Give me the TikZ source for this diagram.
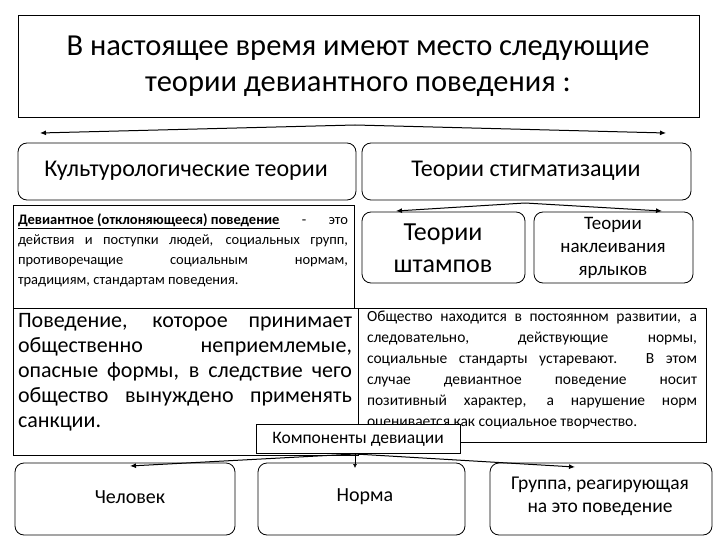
\documentclass[tikz,border=0pt]{standalone}
\usepackage{fontspec}
\setmainfont{Carlito}
\usetikzlibrary{arrows.meta}
\begin{document}
\begin{tikzpicture}[x=1pt,y=-1pt,
  rbox/.style={draw,rounded corners=9pt,line width=0.8pt,inner sep=0pt},
  sbox/.style={draw,line width=0.8pt,inner sep=0pt},
  arr/.style={-{Latex[length=6pt,width=5pt]},line width=1pt}]
\useasboundingbox (0,0) rectangle (720,540);
\draw[sbox] (18,15) rectangle (699,117);
\node (title) at (358,66) [align=center,font=\fontsize{30.5}{36}\selectfont] {В настоящее время имеют место следующие\\теории девиантного поведения :};
\coordinate (t) at (355,125);
\coordinate (l1) at (40,133);
\coordinate (r1) at (666,133);
\draw[arr] (t) -- (l1);
\draw[arr] (t) -- (r1);
\draw[rbox] (18,143) rectangle (356,200);
\node (cult) at (186,171) [font=\fontsize{24}{28}\selectfont] {Культурологические теории};
\draw[rbox] (362,143) rectangle (691,200);
\node (stig) at (526,171) [font=\fontsize{24}{28}\selectfont] {Теории стигматизации};
\coordinate (t2) at (525,203);
\coordinate (l2) at (396,211);
\coordinate (r2) at (662,211);
\draw[arr] (t2) -- (l2);
\draw[arr] (t2) -- (r2);
\draw[sbox] (13,205) rectangle (354,308);
\node (def) at (183,250) [text width=330pt,align=justify,font=\fontsize{14.5}{20}\selectfont] {\underline{\textbf{Девиантное (отклоняющееся) поведение}} - это\linebreak действия и поступки людей, социальных групп,\linebreak противоречащие социальным нормам,\linebreak традициям, стандартам поведения.};
\draw[rbox] (362,212) rectangle (525,283);
\node (sht) at (443,248) [align=center,font=\fontsize{26}{32}\selectfont] {Теории\\штампов};
\draw[rbox] (534,212) rectangle (693,283);
\node (yar) at (613,248) [align=center,font=\fontsize{19}{23}\selectfont] {Теории\\наклеивания\\ярлыков};
\draw[sbox] (13,308) rectangle (358,455);
\node (pov) at (185,372) [text width=334pt,align=justify,font=\fontsize{22}{25}\selectfont] {Поведение, которое принимает\linebreak общественно неприемлемые,\linebreak опасные формы, в следствие чего\linebreak общество вынуждено применять\linebreak санкции.};
\draw[sbox] (358,308) rectangle (706,442);
\node (obs) at (532,370) [text width=330pt,align=justify,font=\fontsize{15.5}{21}\selectfont] {Общество находится в постоянном развитии, а\linebreak следовательно, действующие нормы,\linebreak социальные стандарты устаревают. В этом\linebreak случае девиантное поведение носит\linebreak позитивный характер, а нарушение норм\linebreak оценивается как социальное творчество.};
\node (comp) at (358,439) [sbox,fill=white,minimum width=204pt,minimum height=29pt,font=\fontsize{17.5}{20}\selectfont] {Компоненты девиации};
\coordinate (t3) at (355,454);
\coordinate (a1) at (130,466);
\coordinate (a2) at (355,468);
\coordinate (a3) at (575,467);
\draw[arr] (t3) -- (a1);
\draw[arr,-{Latex[length=4pt,width=4pt]},line width=0.6pt] (t3) -- (a2);
\draw[arr] (t3) -- (a3);
\draw[rbox] (15,463) rectangle (235,535);
\node (ch) at (130,497) [font=\fontsize{20}{24}\selectfont] {Человек};
\draw[rbox] (258,463) rectangle (465,535);
\node (no) at (365,497) [font=\fontsize{20}{24}\selectfont] {Норма};
\draw[rbox] (490,463) rectangle (712,535);
\node (gr) at (600,496) [align=center,font=\fontsize{19.5}{23}\selectfont] {Группа, реагирующая\\на это поведение};
\end{tikzpicture}
\end{document}
